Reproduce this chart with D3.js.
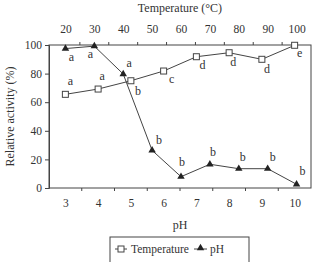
<!DOCTYPE html>
<html>
<head>
<meta charset="utf-8">
<script src="https://cdn.jsdelivr.net/npm/d3@7"></script>
<style>
  body { margin: 0; background: #fff; }
</style>
</head>
<body>
<svg></svg>
<script>
// pH axis (bottom) and temperature axis (top)
const phCats = [3, 4, 5, 6, 7, 8, 9, 10];
const tempCats = [20, 30, 40, 50, 60, 70, 80, 90, 100];
const yTicks = [0, 20, 40, 60, 80, 100];

// "Temperature" series (open squares), placed on the pH categories
const tempValues = [65.5, 69.2, 75.0, 81.8, 91.8, 94.6, 90.0, 99.8];
const tempLetters = ["a", "a", "b", "c", "d", "d", "d", "e"];

// "pH" series (filled triangles), placed on the temperature categories
const phValues = [97.5, 99.2, 79.7, 26.3, 7.9, 16.6, 13.5, 13.5, 2.6];
const phLetters = ["a", "a", "a", "b", "b", "b", "b", "b", "b"];

const width = 312;
const height = 262;
const margin = { top: 45, right: 1, bottom: 74, left: 49 };
const plotW = width - margin.left - margin.right;
const plotH = height - margin.top - margin.bottom;
const lineColor = "#444";
const textColor = "#333";
const serif = "'Liberation Serif', 'Times New Roman', serif";

// label offsets next to each point (px)
const tempLetterOffsets = [[5, -9], [4, -9], [7, 14], [8, 12], [6, 12], [4, 13], [5, 14], [5, 12]];
const phLetterOffsets = [[6, 12], [-4, 12], [6, -7], [7, -6], [1, -11], [3, -8], [4, -8], [5, -8], [6, -9]];

const svg = d3.select("svg").attr("width", width).attr("height", height);

function label(sel, size) {
  return sel.style("font-family", serif).style("font-size", size + "px").style("fill", textColor);
}

const x = d3.scalePoint().domain(phCats).range([0, plotW]).padding(0.5);
const xTop = d3.scalePoint().domain(tempCats).range([2, plotW]).padding(0.5);
const y = d3.scaleLinear().domain([0, 100]).range([plotH, 0]);

const g = svg.append("g")
  .attr("transform", "translate(" + margin.left + "," + margin.top + ")");

// frame
g.append("rect")
  .attr("width", plotW)
  .attr("height", plotH)
  .attr("fill", "none")
  .attr("stroke", lineColor)
  .attr("stroke-width", 1);

// left axis
const yAxis = g.append("g")
  .call(d3.axisLeft(y).tickValues(yTicks).tickSize(4).tickPadding(3));
yAxis.select(".domain").attr("stroke", lineColor);
yAxis.selectAll(".tick line").attr("stroke", lineColor);
label(yAxis.selectAll("text"), 11.5);

// bottom axis: labels at categories, ticks between them
const xAxis = g.append("g")
  .attr("transform", "translate(0," + plotH + ")")
  .call(d3.axisBottom(x).tickSize(0).tickPadding(11));
xAxis.select(".domain").remove();
label(xAxis.selectAll("text"), 11.5);
g.append("g")
  .selectAll("line")
  .data(phCats.slice(0, -1))
  .join("line")
  .attr("x1", (d) => x(d) + x.step() / 2)
  .attr("x2", (d) => x(d) + x.step() / 2)
  .attr("y1", plotH)
  .attr("y2", plotH + 3)
  .attr("stroke", lineColor);

// top axis
const topAxis = g.append("g")
  .call(d3.axisTop(xTop).tickSize(0).tickPadding(12));
topAxis.select(".domain").remove();
label(topAxis.selectAll("text"), 11.5);
g.append("g")
  .selectAll("line")
  .data(tempCats.slice(0, -1))
  .join("line")
  .attr("x1", (d) => xTop(d) + xTop.step() / 2)
  .attr("x2", (d) => xTop(d) + xTop.step() / 2)
  .attr("y1", 0)
  .attr("y2", -3)
  .attr("stroke", lineColor);

// axis titles
label(svg.append("text"), 12)
  .attr("x", margin.left + plotW / 2)
  .attr("y", 12)
  .attr("text-anchor", "middle")
  .text("Temperature (°C)");

label(svg.append("text"), 12)
  .attr("x", margin.left + plotW / 2)
  .attr("y", 229)
  .attr("text-anchor", "middle")
  .text("pH");

label(svg.append("text"), 12)
  .attr("transform", "rotate(-90)")
  .attr("x", -(margin.top + plotH / 2))
  .attr("y", 14)
  .attr("text-anchor", "middle")
  .text("Relative activity (%)");

// lines
const tempLine = d3.line()
  .x((d, i) => x(phCats[i]))
  .y((d) => y(d));
const phLine = d3.line()
  .x((d, i) => xTop(tempCats[i]))
  .y((d) => y(d));

g.append("path")
  .datum(tempValues)
  .attr("d", tempLine)
  .attr("fill", "none")
  .attr("stroke", lineColor)
  .attr("stroke-width", 1);

g.append("path")
  .datum(phValues)
  .attr("d", phLine)
  .attr("fill", "none")
  .attr("stroke", lineColor)
  .attr("stroke-width", 1);

// markers
const tri = d3.symbol().type(d3.symbolTriangle).size(24);

g.append("g")
  .selectAll("path")
  .data(phValues)
  .join("path")
  .attr("d", tri)
  .attr("transform", (d, i) => "translate(" + xTop(tempCats[i]) + "," + y(d) + ")")
  .attr("fill", "#222");

g.append("g")
  .selectAll("rect")
  .data(tempValues)
  .join("rect")
  .attr("x", (d, i) => x(phCats[i]) - 3)
  .attr("y", (d) => y(d) - 3)
  .attr("width", 6)
  .attr("height", 6)
  .attr("fill", "#fff")
  .attr("stroke", lineColor);

// significance letters
label(g.append("g")
  .selectAll("text")
  .data(tempValues)
  .join("text"), 12)
  .attr("x", (d, i) => x(phCats[i]) + tempLetterOffsets[i][0])
  .attr("y", (d, i) => y(d) + tempLetterOffsets[i][1])
  .attr("text-anchor", "middle")
  .text((d, i) => tempLetters[i]);

label(g.append("g")
  .selectAll("text")
  .data(phValues)
  .join("text"), 12)
  .attr("x", (d, i) => xTop(tempCats[i]) + phLetterOffsets[i][0])
  .attr("y", (d, i) => y(d) + phLetterOffsets[i][1])
  .attr("text-anchor", "middle")
  .text((d, i) => phLetters[i]);

// legend
const legend = svg.append("g").attr("transform", "translate(110,237)");
legend.append("rect")
  .attr("width", 139)
  .attr("height", 30)
  .attr("fill", "#fff")
  .attr("stroke", lineColor);

legend.append("line")
  .attr("x1", 5).attr("x2", 17).attr("y1", 12).attr("y2", 12)
  .attr("stroke", lineColor);
legend.append("rect")
  .attr("x", 8).attr("y", 9).attr("width", 6).attr("height", 6)
  .attr("fill", "#fff").attr("stroke", lineColor);
label(legend.append("text"), 11.5)
  .attr("x", 21).attr("y", 16)
  .text("Temperature");

legend.append("line")
  .attr("x1", 84).attr("x2", 97).attr("y1", 12).attr("y2", 12)
  .attr("stroke", lineColor);
legend.append("path")
  .attr("d", tri)
  .attr("transform", "translate(90.5,11)")
  .attr("fill", "#222");
label(legend.append("text"), 11.5)
  .attr("x", 100).attr("y", 16)
  .text("pH");
</script>
</body>
</html>
